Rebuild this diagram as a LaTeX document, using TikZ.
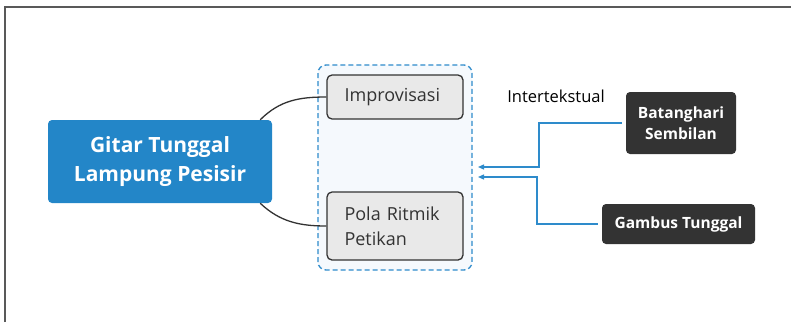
\documentclass[tikz,border=0pt]{standalone}
\usepackage{fontspec}
\setmainfont{Open Sans}
\usepackage{tikz}
\usetikzlibrary{arrows.meta,positioning,calc}
\definecolor{topicblue}{HTML}{2386C8}
\definecolor{boxgray}{HTML}{E9E9E9}
\definecolor{ink}{HTML}{333333}
\definecolor{wrapfill}{HTML}{F5F9FD}
\definecolor{linkblue}{HTML}{2E8BCB}

\begin{document}
\begin{tikzpicture}[x=1pt,y=-1pt,
  topic/.style={fill=topicblue,text=white,rounded corners=4pt,align=center,font=\fontsize{21}{29}\selectfont\bfseries,minimum width=224pt,minimum height=83pt},
  subtopic/.style={draw=ink,line width=1.3pt,fill=boxgray,text=ink,rounded corners=5pt,align=left,font=\fontsize{18}{25}\selectfont,minimum width=136pt,text width=101pt},
  darkbox/.style={fill=ink,text=white,rounded corners=4pt,align=center,font=\fontsize{15.5}{21}\selectfont\bfseries,inner sep=0pt},
  link/.style={linkblue,line width=1.3pt,-{Triangle[length=6pt,width=5pt]}}]
  \useasboundingbox (0,0) rectangle (791,322);
  \draw[gray!70!black,line width=1.3pt] (5,322)--(5,7)--(791,7);
  % group frame
  \draw[linkblue,line width=1.3pt,dashed,dash pattern=on 5pt off 3pt,fill=wrapfill,rounded corners=8pt] (318,65) rectangle (472,270);
  \node[topic] (main) at (160,161.5) {Gitar Tunggal\\Lampung Pesisir};
  \node[subtopic,minimum height=44pt] (imp) at (395,97) {Improvisasi};
  \node[subtopic,minimum height=68pt] (pola) at (395,226) {Pola Ritmik\\Petikan};
  \draw[ink,line width=1.3pt] ($(main.north east)+(-12,0)$) .. controls (280,100) and (300,97) .. (imp.west);
  \draw[ink,line width=1.3pt] ($(main.south east)+(-12,0)$) .. controls (280,222) and (300,226) .. (pola.west);
  % sources
  \node[darkbox,minimum width=110pt,minimum height=62pt] (bat) at (681,123) {Batanghari\\Sembilan};
  \node[darkbox,minimum width=153pt,minimum height=40pt] (gam) at (678.5,224) {Gambus Tunggal};
  \node[text=black,font=\fontsize{16.5}{18}\selectfont] (lbl) at (556,96) {Intertekstual};
  \coordinate (t1) at (478,167);
  \coordinate (t2) at (478,177);
  \draw[link] ($(bat.west)+(-4,0)$) -| (539,167) -- (t1);
  \draw[link] ($(gam.west)+(-4,0)$) -| (537,177) -- (t2);
\end{tikzpicture}
\end{document}
